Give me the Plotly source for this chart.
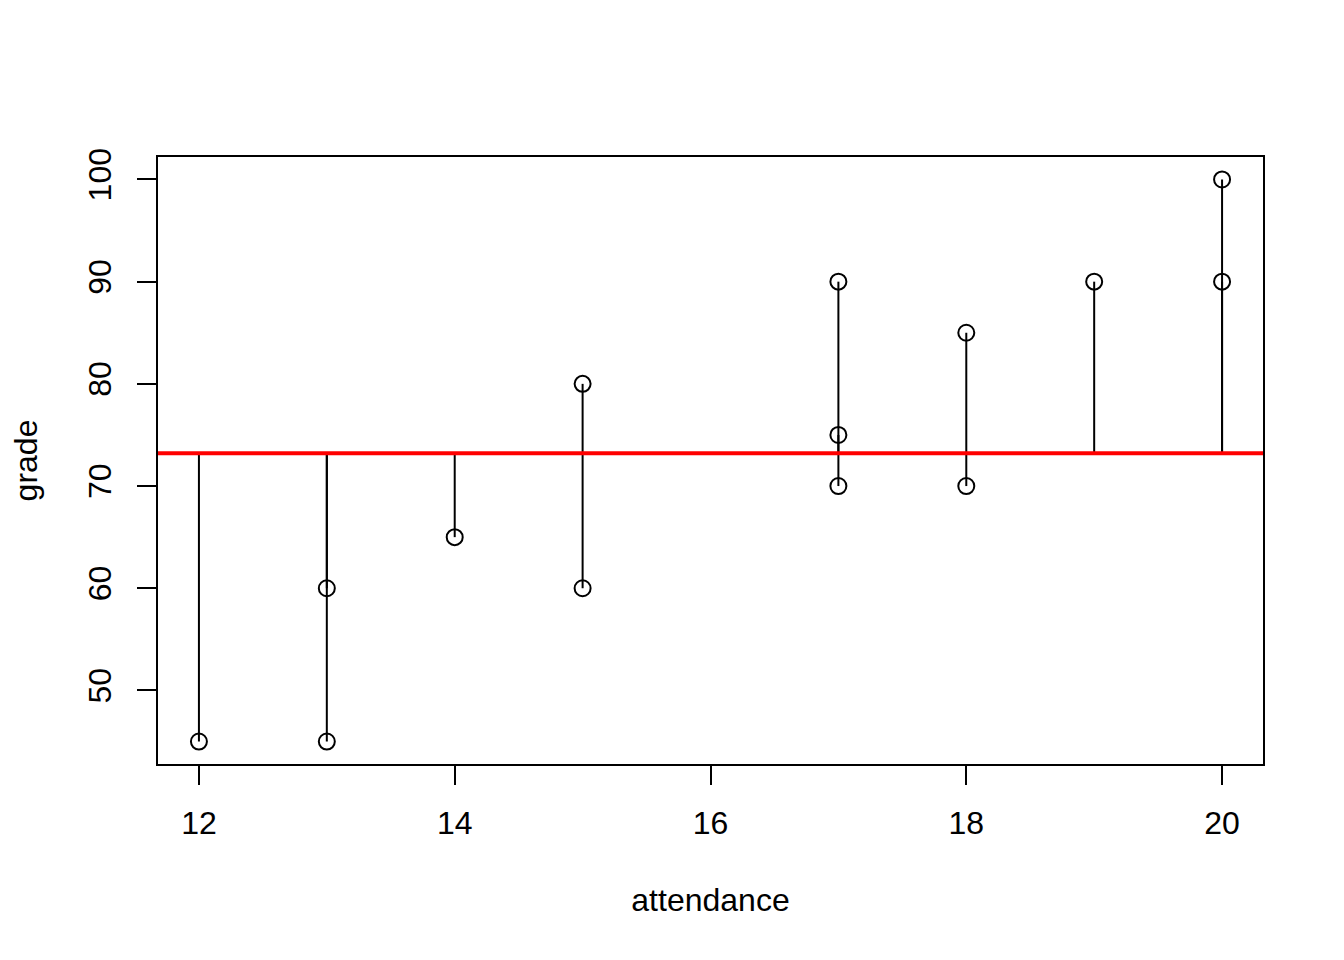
import numpy as np
import plotly.graph_objects as go

attendance = [12, 13, 13, 14, 15, 15, 17, 17, 17, 18, 18, 19, 20, 20]
grade = [45, 60, 45, 65, 80, 60, 90, 75, 70, 85, 70, 90, 100, 90]
x_ticks = [12, 14, 16, 18, 20]
y_ticks = [50, 60, 70, 80, 90, 100]

mean_grade = float(np.mean(grade))

seg_x, seg_y = [], []
for a, g in zip(attendance, grade):
    seg_x += [a, a, None]
    seg_y += [mean_grade, g, None]

FONT = "Liberation Sans"

fig = go.Figure()
fig.add_trace(go.Scatter(
    x=attendance, y=grade, mode="markers",
    marker=dict(symbol="circle-open", size=16, color="black", line=dict(width=2, color="black")),
    showlegend=False, hoverinfo="skip",
))
fig.add_trace(go.Scatter(
    x=seg_x, y=seg_y, mode="lines",
    line=dict(color="black", width=2),
    showlegend=False, hoverinfo="skip",
))
fig.add_shape(type="line", xref="paper", x0=0, x1=1, yref="y", y0=mean_grade, y1=mean_grade,
              line=dict(color="#FF0000", width=4), layer="above")

xmin, xmax = min(attendance), max(attendance)
ymin, ymax = min(grade), max(grade)
xpad = (xmax - xmin) * 0.04
ypad = (ymax - ymin) * 0.04

fig.update_layout(
    width=1344, height=960,
    margin=dict(l=150, r=89, t=149, b=204),
    paper_bgcolor="white", plot_bgcolor="white",
    font=dict(family=FONT, size=32, color="black"),
    xaxis=dict(
        range=[xmin - xpad, xmax + xpad],
        tickmode="array", tickvals=x_ticks, ticktext=[str(v) for v in x_ticks],
        ticks="outside", ticklen=19, tickwidth=2, tickcolor="black",
        showline=True, linewidth=2, linecolor="black", mirror=True,
        showgrid=False, zeroline=False,
        tickfont=dict(family=FONT, size=32),
        ticklabelstandoff=11,
        title=dict(text="attendance", font=dict(family=FONT, size=32), standoff=48),
    ),
    yaxis=dict(
        range=[ymin - ypad, ymax + ypad],
        tickmode="array", tickvals=y_ticks, ticktext=[str(v) for v in y_ticks],
        ticks="outside", ticklen=19, tickwidth=2, tickcolor="black",
        showline=True, linewidth=2, linecolor="black", mirror=True,
        showgrid=False, zeroline=False,
        tickangle=-90,
        tickfont=dict(family=FONT, size=32),
        ticklabelstandoff=13,
        title=dict(text="grade", font=dict(family=FONT, size=32), standoff=37),
    ),
)

fig.write_html("out.html")
